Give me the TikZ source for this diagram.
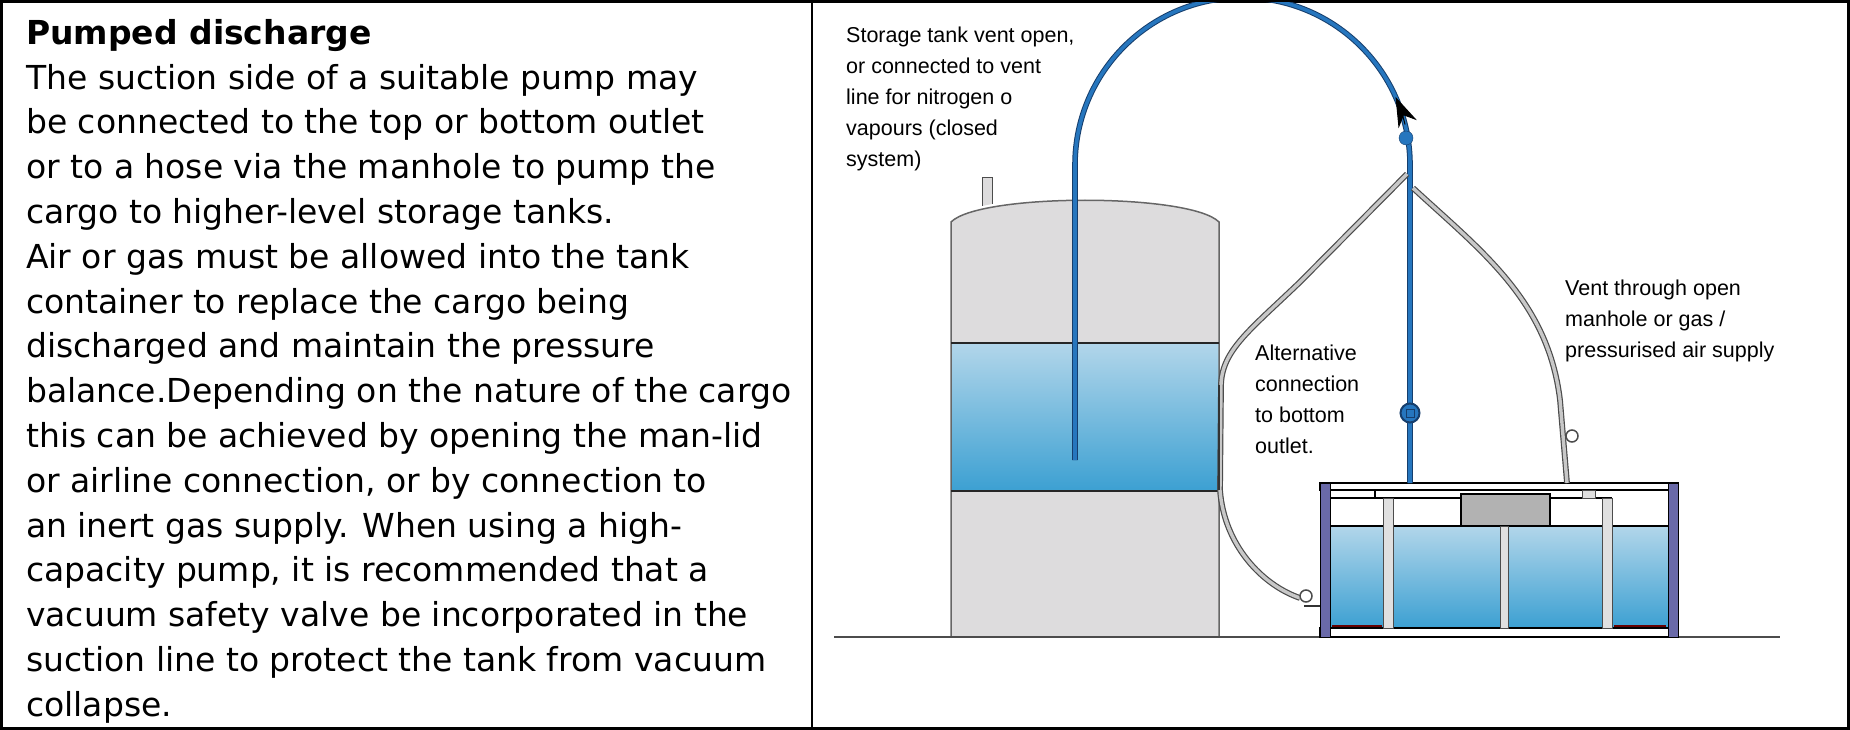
\documentclass[tikz,border=0pt]{standalone}
\usepackage{fontspec}
\setmainfont{DejaVu Sans}
\newfontfamily\labelfont{Liberation Sans}
\usetikzlibrary{arrows.meta}

\definecolor{tankgray}{RGB}{221,220,221}
\definecolor{pipeblue}{RGB}{38,118,190}
\definecolor{pipedark}{RGB}{22,62,108}
\definecolor{liqtop}{RGB}{178,214,234}
\definecolor{liqbot}{RGB}{60,160,210}
\definecolor{hosegray}{RGB}{200,200,200}
\definecolor{postblue}{RGB}{105,105,168}

\tikzset{
  tlabel/.style={font=\labelfont\fontsize{21.5}{31}\selectfont, align=left, anchor=north west, inner sep=0pt},
  liquid/.style={top color=liqtop, bottom color=liqbot},
  pipe/.style={draw=pipedark, line width=1pt, double=pipeblue, double distance=3.6pt},
  hose/.style={draw=black!70, line width=1.2pt, double=hosegray, double distance=3.4pt},
  post/.style={fill=black!12, draw=black!70, line width=1pt},
}

\begin{document}
\begin{tikzpicture}[x=1pt,y=-1pt]
\useasboundingbox (0,0) rectangle (1850,730);

% frame
\draw[line width=3pt] (1.5,1.5) rectangle (1848.5,728.5);
\draw[line width=2pt] (812,1.5) -- (812,728.5);

% description
\node[anchor=north west, align=left, inner sep=0pt, font=\fontsize{33}{44.8}\selectfont] (desc) at (26,19)
  {\textbf{Pumped discharge}\\
   The suction side of a suitable pump may\\
   be connected to the top or bottom outlet\\
   or to a hose via the manhole to pump the\\
   cargo to higher-level storage tanks.\\
   Air or gas must be allowed into the tank\\
   container to replace the cargo being\\
   discharged and maintain the pressure\\
   balance.Depending on the nature of the cargo\\
   this can be achieved by opening the man-lid\\
   or airline connection, or by connection to\\
   an inert gas supply. When using a high-\\
   capacity pump, it is recommended that a\\
   vacuum safety valve be incorporated in the\\
   suction line to protect the tank from vacuum\\
   collapse.};

% storage tank
\coordinate (stbl) at (951,637);
\coordinate (stbr) at (1219,637);
\fill[tankgray] (stbl) -- (951,222) .. controls (980,193) and (1190,193) .. (1219,222) -- (stbr) -- cycle;
\fill[liquid] (951,343) rectangle (1219,491);
\draw[black!60, line width=1.5pt] (stbl) -- (951,222) .. controls (980,193) and (1190,193) .. (1219,222) -- (stbr);
\draw[post, fill=tankgray] (982,206) -- (982,178) -- (992,178) -- (992,204);
\draw[black!85, line width=1.8pt] (951,343) -- (1219,343) (951,491) -- (1219,491);

% ground
\draw[black!70, line width=2.5pt] (834,637) -- (1780,637);

% tank container
\coordinate (ctl) at (1320,483);
\coordinate (ctr) at (1678,483);
\fill[liquid] (1330,526) rectangle (1668,628);
\draw[black, line width=1.5pt] (1330,526) -- (1668,526);
\draw[fill=white, line width=1.5pt] (ctl) rectangle (1678,490);
\draw[fill=white, line width=1.5pt] (1320,628) rectangle (1678,637);
\draw[line width=1.2pt] (1330,498) -- (1612,498) (1375,490) -- (1375,498);
\draw[post] (1582,490) rectangle (1595,498);
\draw[fill=black!30, line width=2pt] (1461,494) rectangle (1550,526);
\draw[post] (1383,498) rectangle (1393,628);
\draw[post] (1500,526) rectangle (1508,628);
\draw[post] (1602,498) rectangle (1612,628);
\draw[red!40!black, line width=2pt] (1332,626) -- (1382,626) (1614,626) -- (1666,626);
\draw[fill=postblue, line width=1pt] (1320,483) rectangle (1330,637);
\draw[fill=postblue, line width=1pt] (1668,483) rectangle (1678,637);

% discharge line
\coordinate (diptip) at (1075,460);
\coordinate (diptop) at (1075,165);
\coordinate (pumptop) at (1410,165);
\coordinate (pumpfoot) at (1410,483);
\coordinate (arcmid) at (1242.5,165);
\begin{scope}
  \clip (3,3) rectangle (1847,727);
  \draw[pipe] (diptip) -- (diptop) arc[start angle=180, end angle=360, radius=167.5] -- (pumpfoot);
\end{scope}
\draw[-{Stealth[length=30pt, width=20pt]}, black, line width=1pt]
  (arcmid) ++(346:167.5) arc[start angle=346, end angle=336, radius=167.5];
\fill[pipeblue, draw=pipedark] (1406,138) circle (7);
\draw[fill=pipeblue, draw=pipedark, line width=2pt] (1410,413) circle (9.5);
\draw[pipedark, line width=1pt] (1406,409) rectangle (1414,417);

% hoses
\coordinate (althead) at (1407,174);
\coordinate (altfoot) at (1300,598);
\coordinate (venthead) at (1413,188);
\coordinate (ventfoot) at (1567,483);
\draw[hose] (althead) -- (1300,282) .. controls (1250,330) and (1222,350) .. (1221,385)
  -- (1220,490) .. controls (1224,545) and (1262,585) .. (altfoot);
\draw[black!80, line width=2.5pt] (1219,385) -- (1219,490);
\draw[black!70, line width=1.5pt] (1306,596) circle (6);
\draw[black!80, line width=1.5pt] (1304,606) -- (1320,606);
\draw[hose] (venthead) .. controls (1480,250) and (1548,300) .. (1560,400) -- (ventfoot);
\draw[black!70, line width=1.5pt] (1572,436) circle (6);

% labels
\node[tlabel] (storelbl) at (846,27) {Storage tank vent open,\\or connected to vent\\line for nitrogen o\\vapours (closed\\system)};
\node[tlabel] (altlbl) at (1255,345) {Alternative\\connection\\to bottom\\outlet.};
\node[tlabel] (ventlbl) at (1565,280) {Vent through open\\manhole or gas /\\pressurised air supply};
\end{tikzpicture}
\end{document}
